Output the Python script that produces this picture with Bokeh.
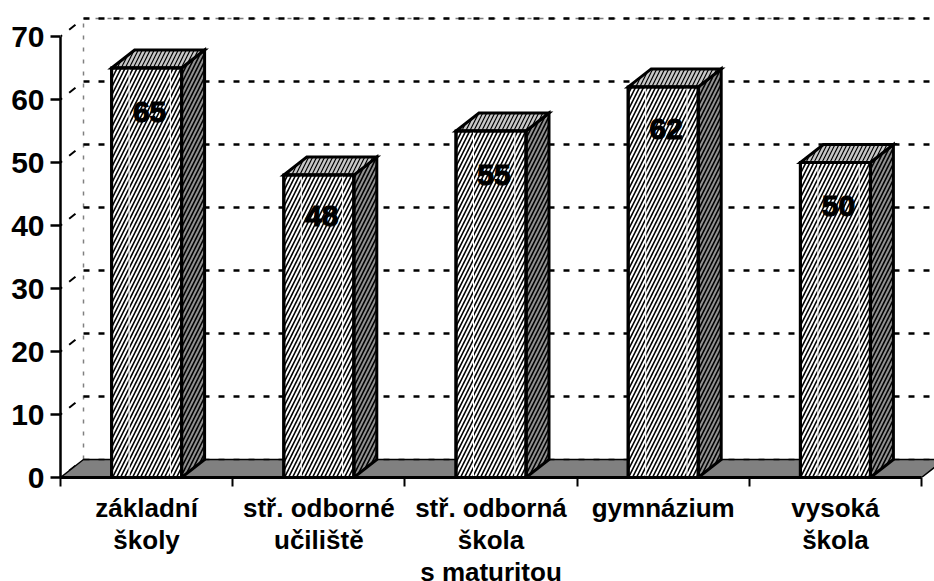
from bokeh.plotting import figure
from bokeh.models import LinearAxis, FixedTicker, Range1d
from bokeh.embed import file_html
from bokeh.resources import INLINE
from bokeh.core.properties import value

categories = ["základní\nškoly", "stř. odborné\nučiliště", "stř. odborná\nškola\ns maturitou", "gymnázium", "vysoká\nškola"]
values = [65, 48, 55, 62, 50]
y_ticks = [0, 10, 20, 30, 40, 50, 60, 70]

FONT = "Liberation Sans"
N = len(categories)
PX_X = 172.2            # px per category
PX_Y = 6.3              # px per unit
DX = 23 / PX_X          # 3-D depth in data units
DY = 18 / PX_Y
BAR_W = 70 / PX_X

p = figure(width=934, height=581, output_backend="svg", toolbar_location=None,
           x_axis_type=None, y_axis_type=None,
           x_range=Range1d(0, 874 / PX_X), y_range=Range1d(0, 477 / PX_Y),
           min_border_left=60, min_border_right=0, min_border_top=0, min_border_bottom=104)
p.frame_width = 874
p.frame_height = 477
p.outline_line_color = None
p.background_fill_color = "white"
p.xgrid.visible = False
p.ygrid.visible = False

# axes
ya = LinearAxis(ticker=FixedTicker(ticks=y_ticks), bounds=(0, 70))
ya.axis_line_color = "black"; ya.axis_line_width = 2.5
ya.major_tick_line_color = "black"; ya.major_tick_line_width = 2.5
ya.major_tick_out = 10; ya.major_tick_in = 0
ya.minor_tick_line_color = None
ya.major_label_standoff = 6
ya.major_label_text_font = FONT
ya.major_label_text_font_style = "bold"
ya.major_label_text_font_size = "30px"
ya.major_label_text_color = "black"
p.add_layout(ya, "left")

centers = [i + 0.5 for i in range(N)]
xa = LinearAxis(ticker=FixedTicker(ticks=centers, minor_ticks=list(range(N + 1))), bounds=(0, N))
xa.major_label_overrides = {c: t for c, t in zip(centers, categories)}
xa.axis_line_color = "black"; xa.axis_line_width = 3
xa.major_tick_line_color = None
xa.major_tick_out = 0; xa.major_tick_in = 0
xa.minor_tick_line_color = "black"; xa.minor_tick_line_width = 2
xa.minor_tick_out = 9; xa.minor_tick_in = 0
xa.major_label_standoff = 6
xa.major_label_text_font = FONT
xa.major_label_text_font_style = "bold"
xa.major_label_text_font_size = "26px"
xa.major_label_text_line_height = 1.07
xa.major_label_text_color = "black"
xa.major_label_text_align = "center"
p.add_layout(xa, "below")

# back walls
p.segment(x0=[DX], y0=[DY], x1=[DX], y1=[70 + DY], line_color="#808080", line_width=1.5, line_dash="4 8")
p.segment(x0=[DX], y0=[70 + DY], x1=[N + DX], y1=[70 + DY], line_color="#808080", line_width=1.5, line_dash="4 8")
p.segment(x0=[0] * len(y_ticks), y0=y_ticks, x1=[DX] * len(y_ticks), y1=[v + DY for v in y_ticks],
          line_color="black", line_width=2, line_dash="2 9 8 20")
grid = y_ticks[1:]
p.segment(x0=[DX] * len(grid), y0=[v + DY for v in grid], x1=[N + DX] * len(grid), y1=[v + DY for v in grid],
          line_color="black", line_width=2.5, line_dash="6 9")

# floor
p.patch([0, N, N + DX, DX], [0, 0, DY, DY], fill_color="#808080", line_color="black", line_width=1.5)
p.segment(x0=[DX], y0=[DY], x1=[N + DX], y1=[DY], line_color="black", line_width=1.5, line_dash="6 9")

# bars
lefts = [c - BAR_W / 2 for c in centers]
rights = [c + BAR_W / 2 for c in centers]
hatch = dict(hatch_pattern="right_diagonal_line", hatch_color="black", hatch_scale=8,
             line_color="black", line_width=3, line_join="miter")
for l, r, v in zip(lefts, rights, values):
    p.patch([r, r + DX, r + DX, r], [0, DY, v + DY, v], fill_color="#909090", hatch_weight=1.6, **hatch)
    p.patch([l, r, r + DX, l + DX], [v, v, v + DY, v + DY], fill_color="#c8c8c8", hatch_weight=1.2, **hatch)
    p.patch([l, r, r, l], [0, 0, v, v], fill_color="white", hatch_weight=1.6, **hatch)
    # light vertical streaks on the front face
    for f in (0.25, 0.84):
        xs = l + (r - l) * f
        p.segment(x0=[xs], y0=[0], x1=[xs], y1=[v], line_color="white", line_width=1)
    p.line([l, r, r, l, l], [0, 0, v, v, 0], line_color="black", line_width=3)

label_drop = [44, 41, 44, 42, 43]
p.text(x=centers, y=values, text=[str(v) for v in values], x_offset=3, y_offset=label_drop,
       text_align="center", text_baseline="middle", text_color="black", text_outline_color="black",
       text_font=value(FONT), text_font_style="bold", text_font_size="30px")

open("out.html", "w").write(file_html(p, INLINE))
